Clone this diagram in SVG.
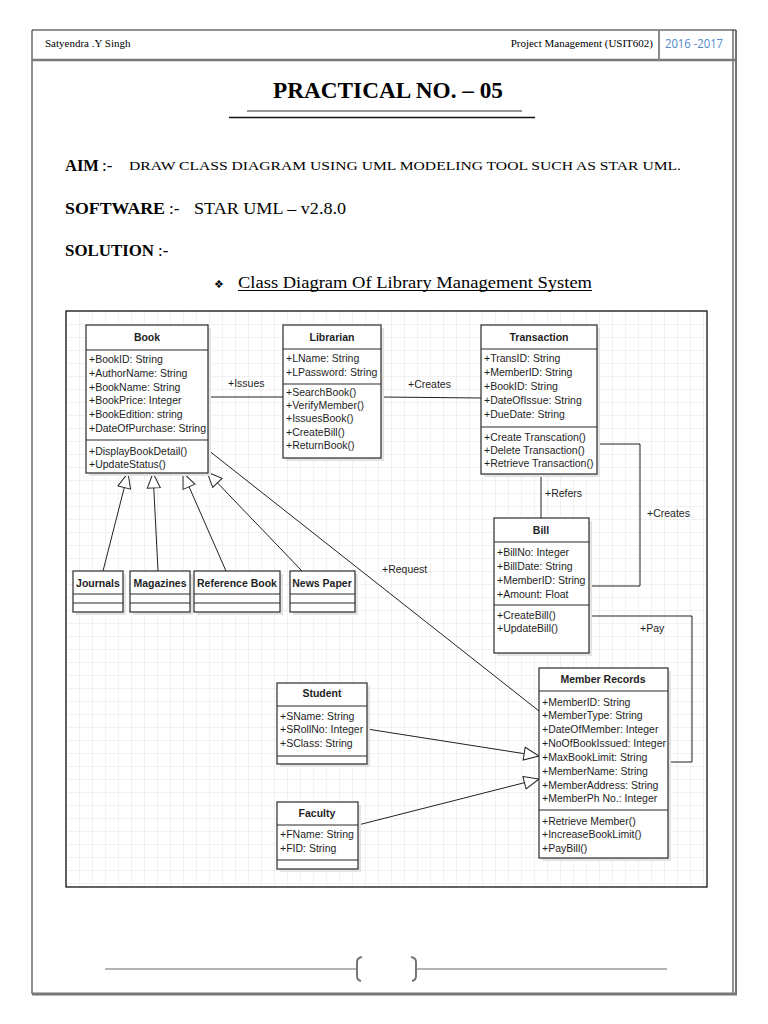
<svg xmlns="http://www.w3.org/2000/svg" width="768" height="1024" viewBox="0 0 768 1024">
<style>
.box{fill:#fff;stroke:#2a2a2a;stroke-width:1.2}
.sh{fill:#e4e4e4}
.sep{stroke:#2a2a2a;stroke-width:1.2}
.t{font-family:"Liberation Sans",Arial,sans-serif;font-size:10.5px;fill:#1e1e1e}
.n{font-family:"Liberation Sans",Arial,sans-serif;font-size:10.5px;font-weight:bold;fill:#1e1e1e;text-anchor:middle}
.ln{fill:none;stroke:#222;stroke-width:1}
.lbl{font-family:"Liberation Sans",Arial,sans-serif;font-size:10.5px;fill:#1e1e1e}
.serif{font-family:"Liberation Serif","Times New Roman",serif;fill:#000}
</style>
<defs>
<pattern id="grid" x="66" y="311" width="13" height="13" patternUnits="userSpaceOnUse">
<path d="M13,0 L0,0 L0,13" fill="none" stroke="#e6e6e6" stroke-width="1"/>
</pattern>
<marker id="gen" viewBox="0 0 17 15" refX="16" refY="7.5" markerWidth="17" markerHeight="15" markerUnits="userSpaceOnUse" orient="auto">
<path d="M1,1 L16,7.5 L1,14 z" fill="#fff" stroke="#222" stroke-width="1"/>
</marker>
</defs>
<rect width="768" height="1024" fill="#fff"/>
<!-- page border -->
<g id="page">
<line x1="32" y1="30" x2="736" y2="30" stroke="#222" stroke-width="1"/>
<line x1="32" y1="30" x2="32" y2="994" stroke="#222" stroke-width="1"/>
<line x1="733" y1="30" x2="733" y2="994" stroke="#222" stroke-width="1"/>
<line x1="736" y1="30" x2="736" y2="995" stroke="#444" stroke-width="1.5"/>
<line x1="32" y1="994" x2="737" y2="994" stroke="#777" stroke-width="3"/>
<line x1="32" y1="60" x2="735" y2="60" stroke="#7a7a7a" stroke-width="2.5"/>
<line x1="659" y1="30" x2="659" y2="60" stroke="#8a8a8a" stroke-width="2"/>
<text class="serif" x="45" y="47" font-size="11">Satyendra .Y Singh</text>
<text class="serif" x="653" y="47" font-size="11" text-anchor="end">Project Management (USIT602)</text>
<text x="665" y="48" font-family="'Open Sans','Liberation Sans',sans-serif" font-size="12" fill="#4f8ac9" textLength="58" lengthAdjust="spacingAndGlyphs">2016 -2017</text>
</g>
<g id="heading">
<text class="serif" x="273" y="98" font-size="23" font-weight="bold" textLength="230" lengthAdjust="spacingAndGlyphs">PRACTICAL NO. – 05</text>
<line x1="247" y1="111" x2="522" y2="111" stroke="#333" stroke-width="1"/>
<line x1="229" y1="117.5" x2="535" y2="117.5" stroke="#111" stroke-width="1.5"/>
<text class="serif" x="65" y="171" font-size="16.5" font-weight="bold">AIM</text>
<text class="serif" x="102" y="171" font-size="17">:-</text>
<text class="serif" x="129" y="170" font-size="13.5" textLength="552" lengthAdjust="spacingAndGlyphs">DRAW  CLASS DIAGRAM USING UML MODELING TOOL SUCH AS STAR UML.</text>
<text class="serif" x="65" y="214" font-size="17.5" font-weight="bold" textLength="100" lengthAdjust="spacingAndGlyphs">SOFTWARE</text>
<text class="serif" x="169" y="214" font-size="17">:-</text>
<text class="serif" x="194" y="214" font-size="16" textLength="152" lengthAdjust="spacingAndGlyphs">STAR UML – v2.8.0</text>
<text class="serif" x="65" y="256" font-size="17" font-weight="bold" textLength="89" lengthAdjust="spacingAndGlyphs">SOLUTION</text>
<text class="serif" x="158" y="256" font-size="17">:-</text>
<text x="214" y="288" font-family="'DejaVu Sans',sans-serif" font-size="11" fill="#000">❖</text>
<text class="serif" x="238" y="288" font-size="16" textLength="354" lengthAdjust="spacingAndGlyphs">Class Diagram  Of  Library Management System</text>
<line x1="238" y1="290.5" x2="592" y2="290.5" stroke="#000" stroke-width="1"/>
</g>
<g id="frame">
<rect x="66" y="311" width="641" height="576" fill="url(#grid)"/>
<rect x="66" y="311" width="641" height="576" fill="none" stroke="#111" stroke-width="1.3"/>
</g>
<g id="connectors">
<line class="ln" x1="208" y1="397" x2="283" y2="397"/>
<text class="lbl" x="228" y="387">+Issues</text>
<line class="ln" x1="381" y1="397" x2="481" y2="398"/>
<text class="lbl" x="408" y="388">+Creates</text>
<line class="ln" x1="541" y1="474" x2="541" y2="518"/>
<text class="lbl" x="545" y="497">+Refers</text>
<polyline class="ln" points="597,444 640,444 640,586 589,586"/>
<text class="lbl" x="647" y="517">+Creates</text>
<polyline class="ln" points="589,616 692,616 692,762 668,762"/>
<text class="lbl" x="640" y="632">+Pay</text>
<line class="ln" x1="208" y1="450" x2="539" y2="711"/>
<text class="lbl" x="382" y="573">+Request</text>
<line class="ln" x1="103" y1="571" x2="128" y2="473" marker-end="url(#gen)"/>
<line class="ln" x1="158" y1="571" x2="153" y2="473" marker-end="url(#gen)"/>
<line class="ln" x1="226" y1="571" x2="183" y2="473" marker-end="url(#gen)"/>
<line class="ln" x1="302" y1="571" x2="207" y2="472" marker-end="url(#gen)"/>
<line class="ln" x1="367" y1="729" x2="539" y2="756" marker-end="url(#gen)"/>
<line class="ln" x1="358" y1="825" x2="539" y2="779" marker-end="url(#gen)"/>
</g>
<g id="Book">
<rect class="sh" x="89" y="328" width="122" height="148"/>
<rect class="box" x="86" y="325" width="122" height="148"/>
<line class="sep" x1="86" y1="350" x2="208" y2="350"/>
<line class="sep" x1="86" y1="440" x2="208" y2="440"/>
<text class="n" x="147" y="341">Book</text>
<text class="t" x="89" y="363">+BookID: String</text>
<text class="t" x="89" y="377">+AuthorName: String</text>
<text class="t" x="89" y="391">+BookName: String</text>
<text class="t" x="89" y="404">+BookPrice: Integer</text>
<text class="t" x="89" y="418">+BookEdition: string</text>
<text class="t" x="89" y="432">+DateOfPurchase: String</text>
<text class="t" x="89" y="455">+DisplayBookDetail()</text>
<text class="t" x="89" y="468">+UpdateStatus()</text>
</g>
<g id="Librarian">
<rect class="sh" x="286" y="328" width="98" height="133"/>
<rect class="box" x="283" y="325" width="98" height="133"/>
<line class="sep" x1="283" y1="349" x2="381" y2="349"/>
<line class="sep" x1="283" y1="384" x2="381" y2="384"/>
<text class="n" x="332" y="341">Librarian</text>
<text class="t" x="286" y="362">+LName: String</text>
<text class="t" x="286" y="376">+LPassword: String</text>
<text class="t" x="286" y="396">+SearchBook()</text>
<text class="t" x="286" y="409">+VerifyMember()</text>
<text class="t" x="286" y="422">+IssuesBook()</text>
<text class="t" x="286" y="436">+CreateBill()</text>
<text class="t" x="286" y="449">+ReturnBook()</text>
</g>
<g id="Transaction">
<rect class="sh" x="484" y="328" width="116" height="149"/>
<rect class="box" x="481" y="325" width="116" height="149"/>
<line class="sep" x1="481" y1="349" x2="597" y2="349"/>
<line class="sep" x1="481" y1="427" x2="597" y2="427"/>
<text class="n" x="539" y="341">Transaction</text>
<text class="t" x="484" y="362">+TransID: String</text>
<text class="t" x="484" y="376">+MemberID: String</text>
<text class="t" x="484" y="390">+BookID: String</text>
<text class="t" x="484" y="404">+DateOfIssue: String</text>
<text class="t" x="484" y="418">+DueDate: String</text>
<text class="t" x="484" y="441">+Create Transcation()</text>
<text class="t" x="484" y="454">+Delete Transaction()</text>
<text class="t" x="484" y="467">+Retrieve Transaction()</text>
</g>
<g id="Bill">
<rect class="sh" x="497" y="521" width="95" height="135"/>
<rect class="box" x="494" y="518" width="95" height="135"/>
<line class="sep" x1="494" y1="542" x2="589" y2="542"/>
<line class="sep" x1="494" y1="605" x2="589" y2="605"/>
<text class="n" x="541" y="534">Bill</text>
<text class="t" x="497" y="556">+BillNo: Integer</text>
<text class="t" x="497" y="570">+BillDate: String</text>
<text class="t" x="497" y="584">+MemberID: String</text>
<text class="t" x="497" y="598">+Amount: Float</text>
<text class="t" x="497" y="619">+CreateBill()</text>
<text class="t" x="497" y="632">+UpdateBill()</text>
</g>
<g id="Journals">
<rect class="sh" x="76" y="574" width="50" height="41"/>
<rect class="box" x="73" y="571" width="50" height="41"/>
<line class="sep" x1="73" y1="594" x2="123" y2="594"/>
<line class="sep" x1="73" y1="603" x2="123" y2="603"/>
<text class="n" x="98" y="587">Journals</text>
</g>
<g id="Magazines">
<rect class="sh" x="133" y="574" width="60" height="41"/>
<rect class="box" x="130" y="571" width="60" height="41"/>
<line class="sep" x1="130" y1="594" x2="190" y2="594"/>
<line class="sep" x1="130" y1="603" x2="190" y2="603"/>
<text class="n" x="160" y="587">Magazines</text>
</g>
<g id="ReferenceBook">
<rect class="sh" x="197" y="574" width="86" height="41"/>
<rect class="box" x="194" y="571" width="86" height="41"/>
<line class="sep" x1="194" y1="594" x2="280" y2="594"/>
<line class="sep" x1="194" y1="603" x2="280" y2="603"/>
<text class="n" x="237" y="587">Reference Book</text>
</g>
<g id="NewsPaper">
<rect class="sh" x="293" y="574" width="65" height="41"/>
<rect class="box" x="290" y="571" width="65" height="41"/>
<line class="sep" x1="290" y1="594" x2="355" y2="594"/>
<line class="sep" x1="290" y1="603" x2="355" y2="603"/>
<text class="n" x="322" y="587">News Paper</text>
</g>
<g id="MemberRecords">
<rect class="sh" x="542" y="671" width="129" height="190"/>
<rect class="box" x="539" y="668" width="129" height="190"/>
<line class="sep" x1="539" y1="691" x2="668" y2="691"/>
<line class="sep" x1="539" y1="810" x2="668" y2="810"/>
<text class="n" x="603" y="683">Member Records</text>
<text class="t" x="542" y="706">+MemberID: String</text>
<text class="t" x="542" y="719">+MemberType: String</text>
<text class="t" x="542" y="733">+DateOfMember: Integer</text>
<text class="t" x="542" y="747">+NoOfBookIssued: Integer</text>
<text class="t" x="542" y="761">+MaxBookLimit: String</text>
<text class="t" x="542" y="775">+MemberName: String</text>
<text class="t" x="542" y="789">+MemberAddress: String</text>
<text class="t" x="542" y="802">+MemberPh No.: Integer</text>
<text class="t" x="542" y="825">+Retrieve Member()</text>
<text class="t" x="542" y="838">+IncreaseBookLimit()</text>
<text class="t" x="542" y="852">+PayBill()</text>
</g>
<g id="Student">
<rect class="sh" x="280" y="686" width="90" height="81"/>
<rect class="box" x="277" y="683" width="90" height="81"/>
<line class="sep" x1="277" y1="706" x2="367" y2="706"/>
<line class="sep" x1="277" y1="756" x2="367" y2="756"/>
<text class="n" x="322" y="697">Student</text>
<text class="t" x="280" y="720">+SName: String</text>
<text class="t" x="280" y="733">+SRollNo: Integer</text>
<text class="t" x="280" y="747">+SClass: String</text>
</g>
<g id="Faculty">
<rect class="sh" x="280" y="805" width="81" height="67"/>
<rect class="box" x="277" y="802" width="81" height="67"/>
<line class="sep" x1="277" y1="825" x2="358" y2="825"/>
<line class="sep" x1="277" y1="860" x2="358" y2="860"/>
<text class="n" x="317" y="817">Faculty</text>
<text class="t" x="280" y="838">+FName: String</text>
<text class="t" x="280" y="852">+FID: String</text>
</g>
<g id="footer">
<line x1="105" y1="969" x2="358" y2="969" stroke="#9a9a9a" stroke-width="1.5"/>
<line x1="415" y1="969" x2="667" y2="969" stroke="#9a9a9a" stroke-width="1.5"/>
<path d="M362,957 Q357,958 357,962 L357,976 Q357,980 361,981" fill="none" stroke="#777" stroke-width="2"/>
<path d="M411,957 Q416,958 416,962 L416,976 Q416,980 412,981" fill="none" stroke="#777" stroke-width="2"/>
</g>
</svg>
